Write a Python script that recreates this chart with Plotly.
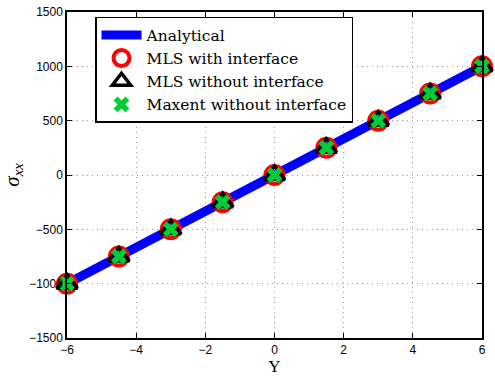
import plotly.graph_objects as go

# Stress profile along Y
y_pos = [-6, -4.5, -3, -1.5, 0, 1.5, 3, 4.5, 6]
sigma_analytical = [-1000, -750, -500, -250, 0, 250, 500, 750, 1000]
sigma_mls_interface = [-1000, -750, -500, -250, 0, 250, 500, 750, 1000]
sigma_mls_no_interface = [-1000, -750, -500, -250, 0, 250, 500, 750, 1000]
sigma_maxent_no_interface = [-1000, -750, -500, -250, 0, 250, 500, 750, 1000]

x_ticks = [-6, -4, -2, 0, 2, 4, 6]
y_ticks = [-1500, -1000, -500, 0, 500, 1000, 1500]

fig = go.Figure()
fig.add_trace(go.Scatter(
    x=y_pos, y=sigma_analytical, mode="lines", name="Analytical",
    line=dict(color="#0000ff", width=9), cliponaxis=False))
fig.add_trace(go.Scatter(
    x=y_pos, y=sigma_mls_interface, mode="markers", name="MLS with interface",
    marker=dict(symbol="circle-open", size=18, color="#ff0000",
                line=dict(width=4, color="#ff0000")), cliponaxis=False))
fig.add_trace(go.Scatter(
    x=y_pos, y=sigma_mls_no_interface, mode="markers", name="MLS without interface",
    marker=dict(symbol="triangle-up-open", size=18, color="#000000",
                line=dict(width=3.5, color="#000000")), cliponaxis=False))
fig.add_trace(go.Scatter(
    x=y_pos, y=sigma_maxent_no_interface, mode="markers", name="Maxent without interface",
    marker=dict(symbol="x", size=14, color="#00cc33",
                line=dict(width=0)), cliponaxis=False))

axis_common = dict(
    showline=True, linecolor="black", linewidth=1.5, mirror="ticks",
    ticks="inside", ticklen=5, tickcolor="black", tickwidth=1,
    showgrid=True, gridcolor="#999999", griddash="1px,4px", gridwidth=1,
    zeroline=False, automargin=False,
    tickfont=dict(family="Liberation Sans, Arial", size=12, color="black"),
)

fig.update_layout(
    width=495, height=376,
    margin=dict(l=67, r=13, t=12, b=38),
    paper_bgcolor="white", plot_bgcolor="white",
    xaxis=dict(range=[-6, 6], tickvals=x_ticks,
               ticktext=[str(v).replace("-", "\u2212") for v in x_ticks],
               title=dict(text="Y", standoff=2,
                          font=dict(family="Liberation Serif, Times New Roman", size=17, color="black")),
               **axis_common),
    yaxis=dict(range=[-1500, 1500], tickvals=y_ticks,
               ticktext=[str(v).replace("-", "\u2212") for v in y_ticks],
               title=dict(text="<i>σ<sub>xx</sub></i>", standoff=8,
                          font=dict(family="Liberation Serif, Times New Roman", size=21, color="black")),
               **axis_common),
    legend=dict(x=0.0675, y=0.985, xanchor="left", yanchor="top",
                bgcolor="white", bordercolor="black", borderwidth=1.5,
                font=dict(family="DejaVu Serif", size=15.5, color="black"),
                tracegroupgap=0, itemwidth=40),
    showlegend=True,
)

fig.write_html("out.html")
